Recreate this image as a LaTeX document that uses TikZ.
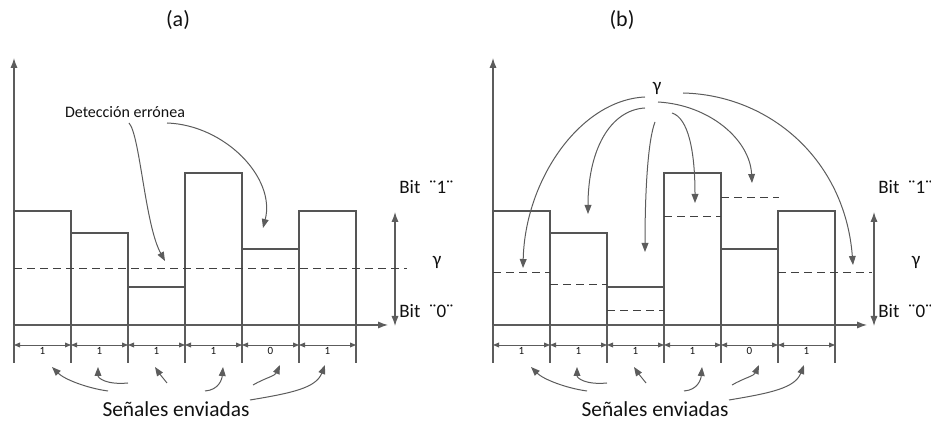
\documentclass[tikz,border=0pt]{standalone}
\usepackage{fontspec}
\setmainfont{Carlito}
\usetikzlibrary{arrows.meta,positioning}
\definecolor{siggray}{HTML}{555555}
\definecolor{axgray}{HTML}{5C5C5C}
\definecolor{txtdark}{HTML}{111111}
\begin{document}
\begin{tikzpicture}[x=0.5pt, y=-0.5pt, font=\fontsize{9.5}{11}\selectfont, text=txtdark]
  \tikzset{
    axisline/.style={draw=axgray, line width=0.6pt, -{Latex[length=5pt,width=3.6pt]}},
    spanarr/.style={draw=axgray, line width=0.6pt, {Latex[length=5pt,width=3.6pt]}-{Latex[length=5pt,width=3.6pt]}},
    pulse/.style={draw=siggray, line width=1.4pt},
    thrline/.style={draw=black!75, line width=0.45pt, dash pattern=on 4pt off 2.5pt},
    dimline/.style={draw=axgray, line width=0.45pt, {Triangle[length=3pt,width=2.4pt]}-{Triangle[length=3pt,width=2.4pt]}},
    tickline/.style={draw=axgray, line width=0.6pt},
    pointer/.style={draw=axgray, line width=0.5pt, -{Triangle[length=4.5pt,width=3.4pt]}},
    bitlbl/.style={font=\fontsize{5.5}{6}\selectfont, inner sep=1pt},
    lvl/.style={anchor=west, inner sep=0pt}
  }
  \useasboundingbox (0,0) rectangle (931,421);
  % titles
  \node (tita) at (178,20) {\fontsize{11}{13}\selectfont (a)};
  \node (titb) at (622,20) {\fontsize{11}{13}\selectfont (b)};
  % both panels
  \foreach \p/\dx in {a/0,b/479}{
  \begin{scope}[shift={(\dx,0)}]
    \coordinate (\p-o) at (14,325);
    \coordinate (\p-ytop) at (14,58);
    \coordinate (\p-ybot) at (14,363);
    \coordinate (\p-xend) at (388,325);
    \draw[axisline] (\p-ybot) -- (\p-ytop);
    \draw[axisline] (\p-o) -- (\p-xend);
    % received levels and bit cells
    \foreach \k/\h/\b in {0/211/1,1/233/1,2/287/1,3/173/1,4/249/0,5/211/1}{
      \pgfmathsetmacro\xl{14+57*\k}
      \pgfmathsetmacro\xr{71+57*\k}
      \draw[pulse] (\xl,325) |- (\xr,\h) -- (\xr,325);
      \coordinate (\p-l\k) at (\xl,345);
      \coordinate (\p-r\k) at (\xr,345);
      \draw[dimline] (\p-l\k) -- node[below, bitlbl] (\p-bit\k) {\b} (\p-r\k);
      \draw[tickline] (\xr,325) -- (\xr,363);
    }
    % decision range
    \coordinate (\p-rtop) at (395,212);
    \coordinate (\p-rbot) at (395,326);
    \draw[spanarr] (\p-rbot) -- (\p-rtop);
    \node[lvl] (\p-one) at (399,187) {Bit\ \ ¨1¨};
    \node[lvl] (\p-zero) at (399,311) {Bit\ \ ¨0¨};
    \node (\p-gam) at (437,262) {γ};
    % sent signals
    \node (\p-sen) at (176,409) {\fontsize{10.7}{13}\selectfont Señales enviadas};
    \foreach \tx/\ty/\ax/\ay/\bx/\by/\hx/\hy [count=\i] in
      {108/391/86/388/64/379/52/367, 128/383/106/385/98/378/98/367,
       167/383/163/378/159/373/155/367, 205/391/219/390/222/379/223/367,
       253/385/265/378/275/376/280/365, 250/400/292/393/316/388/325/365}{
      \coordinate (\p-st\i) at (\tx,\ty);
      \coordinate (\p-sh\i) at (\hx,\hy);
      \draw[pointer] (\p-st\i) .. controls (\ax,\ay) and (\bx,\by) .. (\p-sh\i);
    }
  \end{scope}}
  % (a) fixed threshold
  \coordinate (thleft) at (14,268);
  \coordinate (thright) at (407,268);
  \draw[thrline] (thleft) -- (thright);
  \node (det) at (125,112) {\fontsize{8}{10}\selectfont Detección errónea};
  \coordinate (det1) at (129,123);
  \coordinate (det2) at (167,123);
  \coordinate (err1) at (165,261);
  \coordinate (err2) at (263,228);
  \draw[pointer] (det1) .. controls (140,135) and (145,225) .. (err1);
  \draw[pointer] (det2) .. controls (225,125) and (276,178) .. (err2);
  % (b) adaptive thresholds
  \foreach \xa/\xb/\yy in {493/550/272,550/607/284,607/664/310,664/721/216,721/779/197,778/872/272}
    \draw[thrline] (\xa,\yy) -- (\xb,\yy);
  \node (gtop) at (657,88) {γ};
  \foreach \tx/\ty/\ax/\ay/\bx/\by/\hx/\hy [count=\i] in
    {645/97/580/100/525/180/523/268, 645/108/610/110/588/150/588/214,
     655/122/648/140/645/190/645/252, 672/113/688/118/695/150/695/203,
     658/102/710/105/750/140/752/183, 683/93/770/95/845/160/853/265}{
    \coordinate (gs\i) at (\tx,\ty);
    \coordinate (gh\i) at (\hx,\hy);
    \draw[pointer] (gs\i) .. controls (\ax,\ay) and (\bx,\by) .. (gh\i);
  }
\end{tikzpicture}
\end{document}
